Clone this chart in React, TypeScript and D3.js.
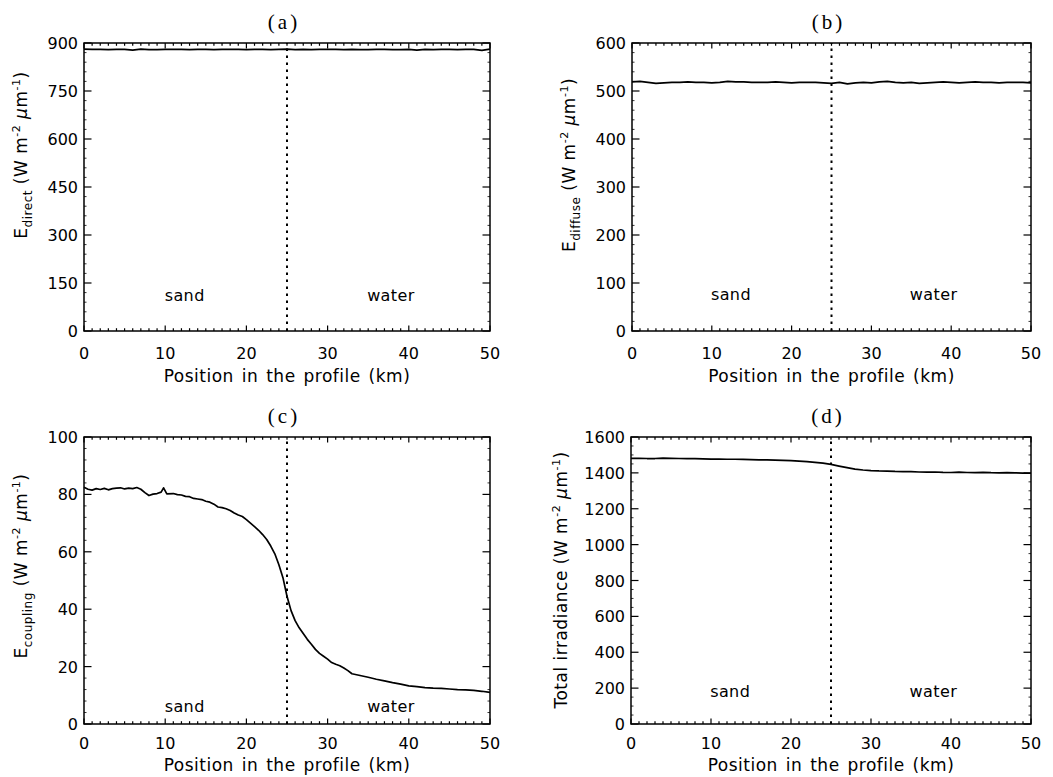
import React from "react";
import * as d3 from "d3";

// ---------------- data ----------------
const KM = [0, 1, 2, 3, 4, 5, 6, 7, 8, 9, 10, 11, 12, 13, 14, 15, 16, 17, 18, 19, 20, 21, 22, 23, 24, 25, 26, 27, 28, 29, 30, 31, 32, 33, 34, 35, 36, 37, 38, 39, 40, 41, 42, 43, 44, 45, 46, 47, 48, 49, 50];

const E_DIRECT = [881, 880, 880, 879, 880, 880, 878, 881, 879, 879, 880, 880, 880, 879, 880, 880, 879, 880, 880, 880, 879, 880, 880, 879, 880, 881, 879, 880, 879, 880, 880, 880, 879, 880, 879, 879, 880, 880, 879, 879, 880, 878, 880, 879, 880, 880, 879, 880, 880, 877, 881];

const E_DIFFUSE = [519, 520, 518, 516, 517, 518, 518, 519, 518, 518, 517, 518, 520, 519, 519, 518, 518, 518, 519, 518, 517, 518, 518, 518, 517, 516, 518, 515, 517, 518, 517, 519, 520, 518, 517, 518, 516, 517, 518, 519, 518, 517, 518, 519, 518, 518, 517, 518, 518, 518, 517];

const COUPLING_KM = [0, 0.5, 1, 1.5, 2, 2.5, 3, 3.5, 4, 4.5, 5, 5.5, 6, 6.5, 7, 7.5, 8, 8.5, 9, 9.5, 9.8, 10.2, 11, 11.5, 12, 12.5, 13, 13.5, 14, 14.5, 15, 15.5, 16, 16.5, 17, 17.5, 18, 18.5, 19, 19.5, 20, 20.5, 21, 21.5, 22, 22.5, 23, 23.5, 24, 24.5, 25, 25.5, 26, 26.5, 27, 27.5, 28, 28.5, 29, 29.5, 30, 30.5, 31, 31.5, 32, 32.5, 33, 34, 35, 36, 37, 38, 39, 40, 41, 42, 43, 44, 45, 46, 47, 48, 49, 50];
const E_COUPLING = [82.5, 81.8, 81.5, 82.0, 81.7, 82.1, 81.6, 82.0, 82.2, 82.3, 81.9, 82.2, 82.0, 82.4, 81.8, 80.6, 79.6, 80.1, 80.3, 80.8, 82.3, 80.2, 80.3, 79.9, 79.8, 79.3, 79.2, 78.6, 78.4, 78.2, 77.6, 77.3, 76.6, 75.6, 75.4, 75.0, 74.4, 73.5, 72.8, 72.3, 71.2, 70.0, 68.8, 67.5, 66.0, 64.3, 62.0, 59.3, 55.5, 51.0, 44.5, 39.5, 36.0, 33.5, 31.5, 29.5, 27.8, 26.0, 24.6, 23.6, 22.6, 21.4, 20.8, 20.3, 19.5, 18.6, 17.5, 16.9, 16.3, 15.6, 15.0, 14.4, 13.9, 13.3, 13.0, 12.7, 12.5, 12.4, 12.2, 12.0, 11.9, 11.7, 11.4, 11.0];

const E_TOTAL = [1481, 1481, 1480, 1480, 1482, 1481, 1480, 1479, 1479, 1478, 1477, 1477, 1476, 1476, 1475, 1474, 1473, 1472, 1471, 1470, 1468, 1466, 1463, 1459, 1454, 1447, 1438, 1429, 1421, 1416, 1413, 1411, 1410, 1408, 1407, 1407, 1405, 1404, 1405, 1403, 1402, 1404, 1402, 1401, 1403, 1401, 1400, 1401, 1400, 1399, 1398];

const X_TICKS = [0, 10, 20, 30, 40, 50];
const Y_TICKS_A = [0, 150, 300, 450, 600, 750, 900];
const Y_TICKS_B = [0, 100, 200, 300, 400, 500, 600];
const Y_TICKS_C = [0, 20, 40, 60, 80, 100];
const Y_TICKS_D = [0, 200, 400, 600, 800, 1000, 1200, 1400, 1600];

const PANEL_TITLES = ["(a)", "(b)", "(c)", "(d)"];
const REGION_NAMES = ["sand", "water"];
const REGION_KM = [12.4, 37.8];
const REGION_Y = [110, 75, 6, 180];
const BOUNDARY_KM = 25;
const X_TITLE = "Position in the profile (km)";

// ---------------- drawing ----------------
const SANS = "'DejaVu Sans', sans-serif";
const SERIF = "'Liberation Serif', 'DejaVu Serif', serif";

type Part = { t: string; size?: number; shift?: number; italic?: boolean };

const unitParts: Part[] = [
  { t: " (W m" },
  { t: "-2", size: 11, shift: -7 },
  { t: " " },
  { t: "\u03bc", italic: true },
  { t: "m" },
  { t: "-1", size: 11, shift: -7 },
  { t: ")" },
];

const LABELS: Part[][] = [
  [{ t: "E" }, { t: "direct", size: 12, shift: 5 }, ...unitParts],
  [{ t: "E" }, { t: "diffuse", size: 12, shift: 5 }, ...unitParts],
  [{ t: "E" }, { t: "coupling", size: 12, shift: 5 }, ...unitParts],
  [{ t: "Total irradiance" }, ...unitParts],
];

function YLabel({ parts, x, y }: { parts: Part[]; x: number; y: number }) {
  let prev = 0;
  return (
    <text
      transform={`translate(${x},${y}) rotate(-90)`}
      textAnchor="middle"
      fontFamily={SANS}
      fontSize={17}
      letterSpacing={0.5}
      fill="#000"
    >
      {parts.map((p, i) => {
        const s = p.shift ?? 0;
        const dy = s - prev;
        prev = s;
        return (
          <tspan key={i} dy={dy} fontSize={p.size ?? 17} fontStyle={p.italic ? "italic" : "normal"}>
            {p.t}
          </tspan>
        );
      })}
    </text>
  );
}

type Box = { l: number; r: number; t: number; b: number };

function Panel(props: {
  box: Box;
  xs: number[];
  ys: number[];
  yTicks: number[];
  minorPer: number;
  title: string;
  label: Part[];
  labelX: number;
  labelY: number;
  regionY: number;
  tickBase: number;
  titleBase: number;
}) {
  const { box, xs, ys, yTicks, minorPer, title, label, labelX, labelY, regionY, tickBase, titleBase } = props;
  const x = d3.scaleLinear().domain([0, 50]).range([box.l, box.r]);
  const yMax = yTicks[yTicks.length - 1];
  const y = d3.scaleLinear().domain([0, yMax]).range([box.b, box.t]);
  const line = d3
    .line<number>()
    .x((_, i) => x(xs[i]))
    .y((d) => y(d));
  const minorX = d3.range(0, 51, 1).filter((v) => v % 10 !== 0);
  const step = yTicks[1] - yTicks[0];
  const minorY = d3
    .range(0, yMax + 1e-9, step / minorPer)
    .filter((v) => Math.abs(v / step - Math.round(v / step)) > 1e-6);
  const cx = (box.l + box.r) / 2;
  return (
    <g>
      {/* ticks */}
      <g stroke="#000" strokeWidth={1.2}>
        {X_TICKS.map((v) => (
          <g key={"xt" + v}>
            <line x1={x(v)} x2={x(v)} y1={box.b} y2={box.b - 5.5} />
            <line x1={x(v)} x2={x(v)} y1={box.t} y2={box.t + 5.5} />
          </g>
        ))}
        {minorX.map((v) => (
          <g key={"xm" + v}>
            <line x1={x(v)} x2={x(v)} y1={box.b} y2={box.b - 2.8} />
            <line x1={x(v)} x2={x(v)} y1={box.t} y2={box.t + 2.8} />
          </g>
        ))}
        {yTicks.map((v) => (
          <g key={"yt" + v}>
            <line x1={box.l} x2={box.l + 7.5} y1={y(v)} y2={y(v)} />
            <line x1={box.r} x2={box.r - 7.5} y1={y(v)} y2={y(v)} />
          </g>
        ))}
        {minorY.map((v) => (
          <g key={"ym" + v}>
            <line x1={box.l} x2={box.l + 2.5} y1={y(v)} y2={y(v)} strokeWidth={0.8} />
            <line x1={box.r} x2={box.r - 2.5} y1={y(v)} y2={y(v)} strokeWidth={0.8} />
          </g>
        ))}
      </g>
      {/* frame */}
      <rect x={box.l} y={box.t} width={box.r - box.l} height={box.b - box.t} fill="none" stroke="#000" strokeWidth={1.5} />
      {/* boundary */}
      <line
        x1={x(BOUNDARY_KM)}
        x2={x(BOUNDARY_KM)}
        y1={box.b}
        y2={box.t}
        stroke="#000"
        strokeWidth={2}
        strokeDasharray="2.5,4.5"
      />
      {/* data */}
      <path d={line(ys) ?? ""} fill="none" stroke="#000" strokeWidth={1.7} strokeLinejoin="round" />
      {/* region labels */}
      {REGION_NAMES.map((n, i) => (
        <text
          key={n}
          x={x(REGION_KM[i])}
          y={y(regionY) + 5}
          textAnchor="middle"
          fontFamily={SANS}
          fontSize={16}
          letterSpacing={0.4}
        >
          {n}
        </text>
      ))}
      {/* tick labels */}
      {X_TICKS.map((v) => (
        <text key={"xl" + v} x={x(v)} y={tickBase} textAnchor="middle" fontFamily={SANS} fontSize={16}>
          {v}
        </text>
      ))}
      {yTicks.map((v) => (
        <text key={"yl" + v} x={box.l - 6} y={y(v) + 6} textAnchor="end" fontFamily={SANS} fontSize={16}>
          {v}
        </text>
      ))}
      {/* axis titles */}
      <text x={cx} y={titleBase} textAnchor="middle" fontFamily={SANS} fontSize={17} letterSpacing={0.5} wordSpacing={2}>
        {X_TITLE}
      </text>
      <YLabel parts={label} x={labelX} y={labelY} />
      <text x={cx - 3} y={box.t - 14} textAnchor="middle" fontFamily={SERIF} fontSize={21} letterSpacing={3}>
        {title}
      </text>
    </g>
  );
}

export default function App() {
  const W = 1053;
  const H = 777;
  const boxA: Box = { l: 84, r: 490, t: 43, b: 331 };
  const boxB: Box = { l: 632, r: 1031, t: 43, b: 331 };
  const boxC: Box = { l: 84, r: 490, t: 437, b: 724 };
  const boxD: Box = { l: 631, r: 1031, t: 437, b: 724 };
  return (
    <svg
      width={W}
      height={H}
      viewBox={`0 0 ${W} ${H}`}
      style={{ position: "absolute", left: 0, top: 0, background: "#fff" }}
    >
      <rect x={0} y={0} width={W} height={H} fill="#fff" />
      <Panel box={boxA} xs={KM} ys={E_DIRECT} yTicks={Y_TICKS_A} minorPer={5} title={PANEL_TITLES[0]} label={LABELS[0]} labelX={27} labelY={155} regionY={REGION_Y[0]} tickBase={359} titleBase={382} />
      <Panel box={boxB} xs={KM} ys={E_DIFFUSE} yTicks={Y_TICKS_B} minorPer={5} title={PANEL_TITLES[1]} label={LABELS[1]} labelX={575} labelY={165} regionY={REGION_Y[1]} tickBase={359} titleBase={382} />
      <Panel box={boxC} xs={COUPLING_KM} ys={E_COUPLING} yTicks={Y_TICKS_C} minorPer={5} title={PANEL_TITLES[2]} label={LABELS[2]} labelX={27} labelY={566} regionY={REGION_Y[2]} tickBase={749} titleBase={771} />
      <Panel box={boxD} xs={KM} ys={E_TOTAL} yTicks={Y_TICKS_D} minorPer={4} title={PANEL_TITLES[3]} label={LABELS[3]} labelX={567} labelY={580} regionY={REGION_Y[3]} tickBase={749} titleBase={771} />
    </svg>
  );
}
